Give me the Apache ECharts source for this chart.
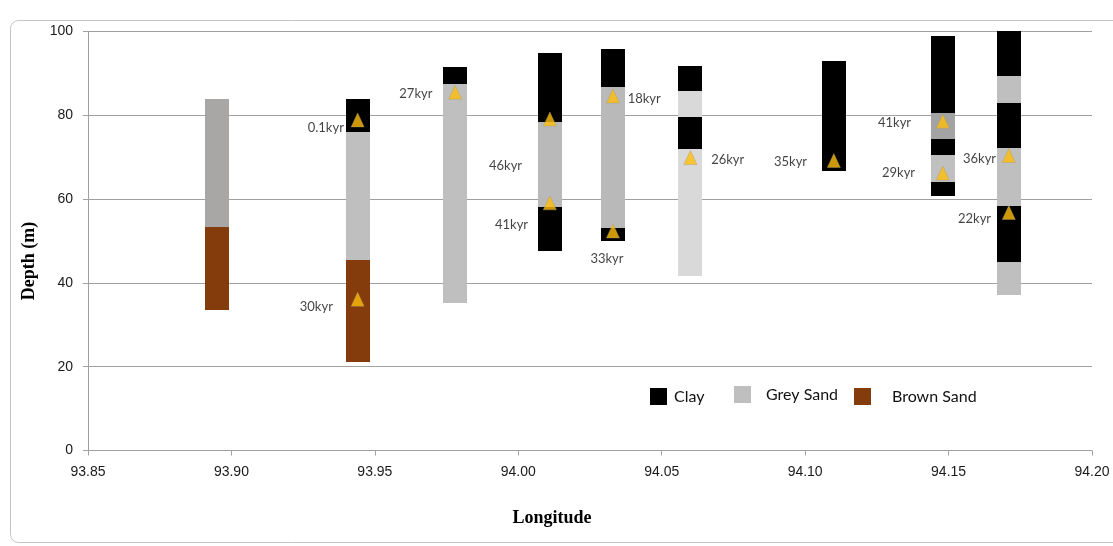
<!DOCTYPE html>
<html>
<head>
<meta charset="utf-8">
<title>Core lithology vs longitude</title>
<script src="https://cdn.jsdelivr.net/npm/echarts@6/dist/echarts.min.js"></script>
<style>
  html, body { margin: 0; padding: 0; background: #ffffff; }
  #chart { width: 1113px; height: 546px; }
</style>
</head>
<body>
<div id="chart"></div>
<script>
// Longitude of each core (degrees E)
const coreLongitudes = [93.895, 93.944, 93.978, 94.011, 94.033, 94.060, 94.110, 94.148, 94.171];

// Lithology intervals: [core index, upper value (m), lower value (m)]
const claySegments = [
  [1, 83.9, 76.1],
  [2, 91.6, 87.5],
  [3, 94.8, 78.3], [3, 58.0, 47.6],
  [4, 95.8, 86.7], [4, 53.1, 50.0],
  [5, 91.8, 85.8], [5, 79.5, 72.0],
  [6, 92.9, 66.7],
  [7, 99.0, 80.5], [7, 74.3, 70.5], [7, 64.1, 60.8],
  [8, 100.0, 89.3], [8, 82.9, 72.3], [8, 58.4, 44.9]
];
const greySandSegments = [
  [0, 83.9, 53.4],
  [1, 76.1, 45.5],
  [2, 87.5, 35.3],
  [3, 78.3, 58.0],
  [4, 86.7, 53.1],
  [5, 85.8, 79.5], [5, 72.0, 41.6],
  [7, 80.5, 74.3], [7, 70.5, 64.1],
  [8, 89.3, 82.9], [8, 72.3, 58.4], [8, 44.9, 37.1]
];
const brownSandSegments = [
  [0, 53.4, 33.5],
  [1, 45.5, 21.2]
];

// Dated samples
const ageCore   = [1, 1, 2, 3, 3, 4, 4, 5, 6, 7, 7, 8, 8];
const ageDepth  = [78.9, 36.1, 85.5, 79.1, 59.1, 84.6, 52.4, 69.9, 69.2, 78.6, 66.2, 70.4, 56.8];
const ageLabels = ['0.1kyr', '30kyr', '27kyr', '46kyr', '41kyr', '18kyr', '33kyr', '26kyr', '35kyr', '41kyr', '29kyr', '36kyr', '22kyr'];

// Shades of the grey sand intervals (same order as greySandSegments)
const greySandShades = ['#a9a6a6', '#bfbfbf', '#bfbfbf', '#b9b9b9', '#b9b9b9', '#d9d9d9', '#d9d9d9',
                        '#a3a3a3', '#c0c0c0', '#bfbfbf', '#bfbfbf', '#bfbfbf'];

// Placement of each age label next to its marker
const ageLabelPlacement = [
  { position: 'left',   distance: 7,  offset: [0, 8] },
  { position: 'left',   distance: 18, offset: [0, 8] },
  { position: 'left',   distance: 16, offset: [0, 2] },
  { position: 'left',   distance: 21, offset: [0, 47] },
  { position: 'left',   distance: 15, offset: [0, 22] },
  { position: 'right',  distance: 8,  offset: [0, 3] },
  { position: 'bottom', distance: 14, offset: [-6, 0] },
  { position: 'right',  distance: 14, offset: [0, 2] },
  { position: 'left',   distance: 20, offset: [0, 1] },
  { position: 'left',   distance: 25, offset: [0, 2] },
  { position: 'left',   distance: 21, offset: [0, 0] },
  { position: 'left',   distance: 6,  offset: [0, 3] },
  { position: 'left',   distance: 11, offset: [0, 6] }
];

const BAR_WIDTH = 24;

function toSegmentData(segments) {
  return segments.map(s => [coreLongitudes[s[0]], s[1], s[2]]);
}

function segmentRenderer(colorOf) {
  return function (params, api) {
    const top = api.coord([api.value(0), api.value(1)]);
    const bottom = api.coord([api.value(0), api.value(2)]);
    const x = Math.round(top[0] - BAR_WIDTH / 2);
    const y = Math.round(top[1]);
    return {
      type: 'rect',
      shape: { x: x, y: y, width: BAR_WIDTH, height: Math.round(bottom[1]) - y },
      style: { fill: colorOf(params.dataIndex) }
    };
  };
}

const chart = echarts.init(document.getElementById('chart'), null, { renderer: 'canvas' });

const legendBase = {
  orient: 'horizontal',
  padding: 0,
  itemGap: 0,
  itemWidth: 17,
  itemHeight: 17,
  icon: 'rect',
  selectedMode: false
};
function legendText(padLeft) {
  return { fontFamily: 'Lato', fontSize: 16, color: '#111111', padding: [0, 0, 0, padLeft] };
}

chart.setOption({
  animation: false,
  backgroundColor: '#ffffff',
  graphic: [{
    type: 'rect',
    silent: true,
    z: -10,
    shape: { x: 10.5, y: 20.5, width: 1120, height: 522, r: 8 },
    style: { fill: 'none', stroke: '#c4c4c4', lineWidth: 1 }
  }],
  grid: { left: 88, right: 21, top: 31.5, bottom: 95.5, containLabel: false },
  legend: [
    Object.assign({}, legendBase, { data: ['Clay'],       left: 650, top: 388, textStyle: legendText(2) }),
    Object.assign({}, legendBase, { data: ['Grey Sand'],  left: 734, top: 386, textStyle: legendText(10) }),
    Object.assign({}, legendBase, { data: ['Brown Sand'], left: 854, top: 388, textStyle: legendText(16) })
  ],
  xAxis: {
    type: 'value',
    min: 93.85,
    max: 94.20,
    interval: 0.05,
    name: 'Longitude',
    nameLocation: 'middle',
    nameGap: 59,
    nameTextStyle: {
      fontFamily: 'Liberation Serif', fontWeight: 'bold', fontSize: 18, color: '#000000',
      padding: [0, 76, 0, 0]
    },
    axisLine: { show: true, lineStyle: { color: '#a0a0a0', width: 1 } },
    axisTick: { show: true, length: 5, lineStyle: { color: '#a0a0a0' } },
    axisLabel: {
      margin: 15,
      fontFamily: 'Liberation Sans', fontSize: 14, color: '#1a1a1a',
      formatter: v => v.toFixed(2)
    },
    splitLine: { show: false }
  },
  yAxis: {
    type: 'value',
    min: 0,
    max: 100,
    interval: 20,
    name: 'Depth (m)',
    nameLocation: 'middle',
    nameGap: 48,
    nameRotate: 90,
    nameTextStyle: {
      fontFamily: 'Liberation Serif', fontWeight: 'bold', fontSize: 18, color: '#000000',
      padding: [0, 40, 0, 0]
    },
    axisLine: { show: true, lineStyle: { color: '#a0a0a0', width: 1 } },
    axisTick: { show: true, length: 5, lineStyle: { color: '#a0a0a0' } },
    axisLabel: { margin: 15, fontFamily: 'Liberation Sans', fontSize: 14, color: '#1a1a1a' },
    splitLine: { show: true, lineStyle: { color: '#a0a0a0', width: 1 } }
  },
  series: [
    {
      name: 'Clay',
      type: 'custom',
      itemStyle: { color: '#000000' },
      encode: { x: 0, y: [1, 2] },
      renderItem: segmentRenderer(() => '#000000'),
      data: toSegmentData(claySegments),
      z: 2
    },
    {
      name: 'Grey Sand',
      type: 'custom',
      itemStyle: { color: '#bfbfbf' },
      encode: { x: 0, y: [1, 2] },
      renderItem: segmentRenderer(i => greySandShades[i]),
      data: toSegmentData(greySandSegments),
      z: 2
    },
    {
      name: 'Brown Sand',
      type: 'custom',
      itemStyle: { color: '#843c0c' },
      encode: { x: 0, y: [1, 2] },
      renderItem: segmentRenderer(() => '#843c0c'),
      data: toSegmentData(brownSandSegments),
      z: 2
    },
    {
      name: 'Age',
      type: 'scatter',
      symbol: 'triangle',
      symbolSize: [13, 14],
      itemStyle: { color: '#ffbe0a', borderColor: '#a89a6a', borderWidth: 0.5 },
      label: {
        show: true,
        fontFamily: 'Lato',
        fontSize: 13,
        color: '#111111',
        formatter: p => ageLabels[p.dataIndex]
      },
      data: ageDepth.map((d, i) => ({
        value: [coreLongitudes[ageCore[i]], d],
        label: ageLabelPlacement[i]
      })),
      z: 5
    }
  ]
});
</script>
</body>
</html>
